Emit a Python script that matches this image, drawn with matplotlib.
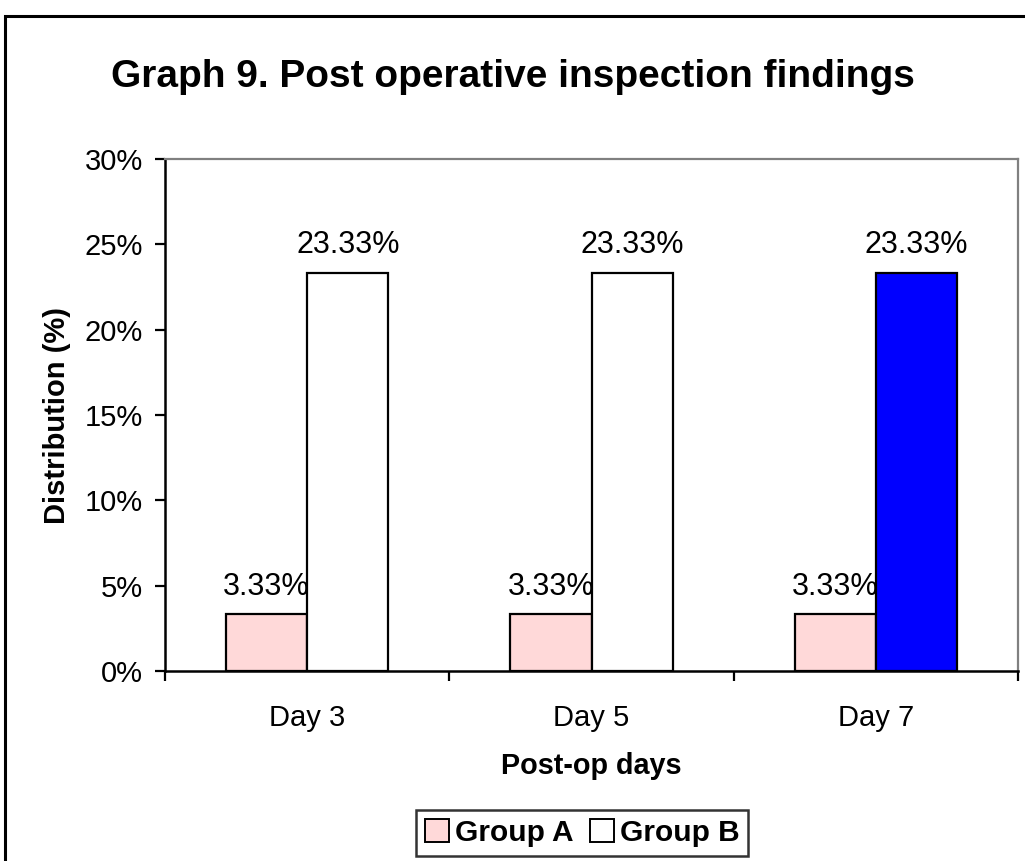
# Graph 9 - post operative inspection findings (grouped bars, Excel look)
import numpy as np
import matplotlib
matplotlib.use("Agg")
import matplotlib.pyplot as plt
from matplotlib.patches import Rectangle, Patch

# ---------------------------------------------------------
# Data
# ---------------------------------------------------------
DAYS = ["Day 3", "Day 5", "Day 7"]
GROUP_A = [3.33, 3.33, 3.33]
GROUP_B = [23.33, 23.33, 23.33]
Y_TICKS = [0, 5, 10, 15, 20, 25, 30]

COLOR_A = "#FFD9D9"
COLORS_B = ["#FFFFFF", "#FFFFFF", "#0000FF"]

plt.rcParams["font.family"] = ["Liberation Sans", "DejaVu Sans"]

W, H = 1025, 861
fig = plt.figure(figsize=(W / 100, H / 100), dpi=100)
ax = fig.add_axes([165 / W, 1 - 671 / H, (1018 - 165) / W, (671 - 159) / H])

# outer chart border (runs off right/bottom edge like the screenshot)
fig.patches.append(Rectangle((5 / W, -0.05), 1.1, 1 - 16 / H + 0.05,
                             transform=fig.transFigure, fill=False,
                             edgecolor="black", linewidth=2.2, zorder=0))

x = np.arange(len(DAYS))
bw = 1 / 3.5

bars_a = ax.bar(x - bw / 2, GROUP_A, bw, color=COLOR_A, edgecolor="black", linewidth=1.6, zorder=3)
bars_b = ax.bar(x + bw / 2, GROUP_B, bw, color=COLORS_B, edgecolor="black", linewidth=1.6, zorder=3)

for bars, vals in ((bars_a, GROUP_A), (bars_b, GROUP_B)):
    for b, v in zip(bars, vals):
        ax.annotate(f"{v:.2f}%", (b.get_x() + b.get_width() / 2, v),
                    xytext=(0, 14), textcoords="offset points",
                    ha="center", va="baseline", fontsize=22, zorder=4)

ax.set_xlim(-0.5, len(DAYS) - 0.5)
ax.set_ylim(0, 30)
ax.set_yticks(Y_TICKS)
ax.set_yticklabels([f"{t}%" for t in Y_TICKS], fontsize=21)
ax.set_xticks(x)
ax.set_xticklabels(DAYS, fontsize=21)
ax.set_xticks(np.arange(len(DAYS) + 1) - 0.5, minor=True)
ax.tick_params(axis="x", which="major", length=0, pad=24)
ax.tick_params(axis="x", which="minor", length=7, width=1.6, direction="out")
ax.tick_params(axis="y", length=7, width=1.6, direction="out", pad=9)

for side in ("left", "bottom"):
    ax.spines[side].set_color("black")
    ax.spines[side].set_linewidth(1.8)
for side in ("top", "right"):
    ax.spines[side].set_color("#808080")
    ax.spines[side].set_linewidth(1.6)

ax.set_ylabel("Distribution (%)", fontsize=21, fontweight="bold", labelpad=10)
ax.set_xlabel("Post-op days", fontsize=20.7, fontweight="bold", labelpad=14)

fig.text(513 / W, 1 - 77 / H, "Graph 9. Post operative inspection findings",
         ha="center", va="center", fontsize=28, fontweight="bold")

handles = [Patch(facecolor=COLOR_A, edgecolor="black", linewidth=1.4, label="Group A"),
           Patch(facecolor="#FFFFFF", edgecolor="black", linewidth=1.4, label="Group B")]
leg = fig.legend(handles=handles, loc="center", bbox_to_anchor=(582 / W, 1 - 833 / H),
                 ncol=2, frameon=True, fancybox=False, edgecolor="black",
                 prop={"size": 21.5, "weight": "bold"}, handlelength=0.8, handleheight=0.8,
                 handletextpad=0.2, columnspacing=0.55, borderpad=0.3, borderaxespad=0)
leg.get_frame().set_linewidth(1.8)

fig.savefig("out.png", dpi=100)
